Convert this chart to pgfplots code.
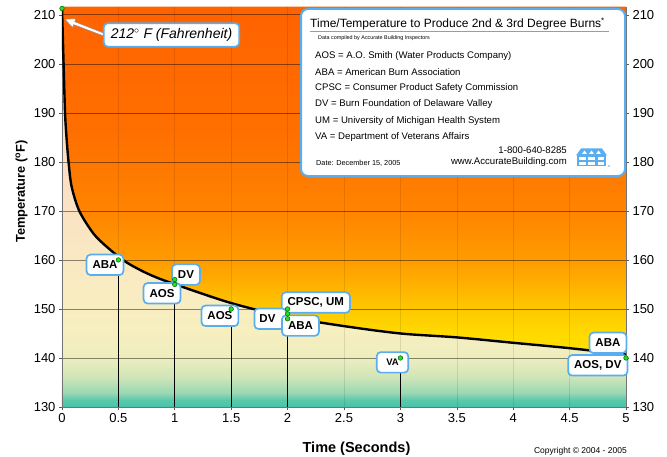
\documentclass[border=0pt]{standalone}
\usepackage{fontspec}
\setmainfont{Liberation Sans}
\usepackage{pgfplots}
\pgfplotsset{compat=1.18}

\definecolor{lblue}{HTML}{5AAEEE}
\definecolor{dotgreen}{HTML}{22E022}
% background colours
\definecolor{bgA}{HTML}{45C2A8}
\definecolor{bgB}{HTML}{5CC8AC}
\definecolor{bgC}{HTML}{9AD8B4}
\definecolor{bgD}{HTML}{CFE5B8}
\definecolor{bgE}{HTML}{EEEDBE}
\definecolor{bgF}{HTML}{F7EFC0}
\definecolor{bgG}{HTML}{F9EBC2}
\definecolor{bgH}{HTML}{FBE0C4}
\definecolor{bgI}{HTML}{FAD8BE}
% orange colours
\definecolor{orA}{HTML}{FFE000}
\definecolor{orB}{HTML}{FFDA00}
\definecolor{orC}{HTML}{FFC800}
\definecolor{orD}{HTML}{FFB000}
\definecolor{orE}{HTML}{FF9B00}
\definecolor{orF}{HTML}{FF8400}
\definecolor{orG}{HTML}{FF7000}
\definecolor{orH}{HTML}{FF6200}

\pgfdeclareverticalshading{bgshade}{100bp}{color(0bp)=(bgA); color(25bp)=(bgA); color(25.9bp)=(bgB); color(26.8bp)=(bgC); color(28.7bp)=(bgD); color(31.1bp)=(bgE); color(34.8bp)=(bgF); color(40.3bp)=(bgG); color(52.6bp)=(bgH); color(75bp)=(bgI); color(100bp)=(bgI)}
\pgfdeclareverticalshading{orshade}{100bp}{color(0bp)=(orA); color(25bp)=(orA); color(28.1bp)=(orB); color(31.6bp)=(orC); color(35.1bp)=(orD); color(38.7bp)=(orE); color(45.7bp)=(orF); color(56.3bp)=(orG); color(75bp)=(orH); color(100bp)=(orH)}

\pgfplotsset{
  commonaxis/.style={
    at={(0,0)}, anchor=south west,
    width=564pt, height=400pt, scale only axis,
    xmin=0, xmax=5, ymin=130, ymax=211.6,
    xtick={0,0.5,1,1.5,2,2.5,3,3.5,4,4.5,5},
    ytick={130,140,150,160,170,180,190,200,210},
    tick align=outside, major tick length=3pt,
    tick style={black!65, line width=0.6pt},
    axis line style={black!55, line width=0.8pt, -},
    ticklabel style={font=\fontsize{13}{15}\selectfont},
    /pgf/number format/assume math mode=true,
  },
}
\tikzset{
  lbl/.style={draw=lblue, line width=1.7pt, fill=white, rounded corners=4pt,
    font=\fontsize{11.5}{13}\selectfont\bfseries, inner xsep=6pt, inner ysep=0pt,
    minimum height=20.5pt},
}

\begin{document}
\begin{tikzpicture}
\begin{axis}[commonaxis,
  set layers,
  clip mode=individual,
  axis x line*=bottom, axis y line*=left,
  xmajorgrids, ymajorgrids,
  major x grid style={black, opacity=0.10, line width=0.6pt},
  major y grid style={black, opacity=0.45, line width=0.7pt},
]
% background
\addplot[on layer=axis background, draw=none, shading=bgshade]
  coordinates {(0,130) (5,130) (5,211.6) (0,211.6)};
% region above the curve
\addplot[on layer=axis background, draw=none, shading=orshade]
  coordinates {(0,211.3) (0.004,208) (0.008,205) (0.014,200) (0.02,195) (0.027,190) (0.04,185) (0.058,180)
   (0.085,175) (0.115,172) (0.153,170) (0.21,167.5) (0.278,165.4) (0.33,164) (0.396,162.7) (0.48,161.1) (0.559,159.7)
   (0.65,158.4) (0.75,157.3) (0.85,156.3) (0.957,155.4) (1.0,155.1) (1.25,153) (1.5,151.2) (1.75,149.7) (2.0,148.4)
   (2.25,147.4) (2.5,146.5) (2.82,145.7) (3.0,145.0) (3.5,144.2) (4.0,143.1) (4.5,142.0) (4.66,141.4) (5,140.7)
   (5,211.6) (0,211.6)};
% curve
\addplot[black, line width=2.4pt, smooth, tension=0.5]
  coordinates {(0,211.3) (0.008,205) (0.014,200) (0.027,190) (0.04,185) (0.058,180)
   (0.085,175) (0.153,170) (0.278,165.4) (0.396,162.7) (0.559,159.7)
   (0.75,157.3) (0.957,155.4) (1.5,151.2) (2.0,148.4)
   (2.5,146.5) (3.0,145.0) (3.5,144.2) (4.0,143.1) (4.5,142.0) (5,140.7)};
% drop lines
\addplot[ycomb, black, line width=0.6pt, mark=none]
  coordinates {(0.5,160) (1,156) (1.5,150) (2,150) (3,140) (5,140)};

\begin{pgfonlayer}{axis foreground}
  % arrow for 212 F
  \fill[white, draw=black!45, line width=0.5pt]
    (axis cs:0.400,206.0) -- (axis cs:0.113,208.6) -- (axis cs:0.123,209.2)
    -- (axis cs:0.026,209.1) -- (axis cs:0.095,207.4) -- (axis cs:0.104,208.0)
    -- (axis cs:0.391,205.5) -- cycle;
  \node[lbl, font=\fontsize{14}{16}\selectfont\itshape, minimum height=23.5pt, inner xsep=7pt]
    at (axis cs:0.971,205.9) {212$^{\circ}$ F (Fahrenheit)};
  \node[lbl] at (axis cs:0.381,159.0) {ABA};
  \node[lbl] at (axis cs:1.099,157.0) {DV};
  \node[lbl] at (axis cs:0.887,153.2) {AOS};
  \node[lbl] at (axis cs:1.40,148.6) {AOS};
  \node[lbl] at (axis cs:2.25,151.3) {CPSC, UM};
  \node[lbl, text width=22pt, align=left, inner xsep=5pt] at (axis cs:1.848,148.0) {DV};
  \node[lbl] at (axis cs:2.114,146.6) {ABA};
  \node[lbl, font=\fontsize{9.5}{11}\selectfont\bfseries, inner xsep=9.5pt] at (axis cs:2.93,139.1) {VA};
  \node[lbl] at (axis cs:4.84,143.1) {ABA};
  \node[lbl] at (axis cs:4.75,138.5) {AOS, DV};
\end{pgfonlayer}

% data points
\addplot[on layer=axis foreground, only marks, mark=*, mark size=2.3pt,
  mark options={fill=dotgreen, draw=green!40!black, line width=0.5pt}]
  coordinates {(0,211.3) (0.5,160) (1,156) (1,155) (1.5,150) (2,150) (2,149) (2,148) (3,140) (5,140)};
\end{axis}

% right-hand tick labels
\begin{axis}[commonaxis,
  axis y line*=right, hide x axis,
]
\addplot[draw=none] coordinates {(0,130) (5,211.6)};
\end{axis}

\begin{scope}[x=1pt, y=-1pt, shift={(-62pt,407pt)}]
  % axis labels
  \node[font=\fontsize{14.5}{17}\selectfont\bfseries, inner sep=0] at (356.5,449) {Time (Seconds)};
  \node[font=\fontsize{12.8}{15}\selectfont\bfseries, inner sep=0, rotate=90] at (21.5,191.5) {Temperature (\textsuperscript{o}F)};
  \node[anchor=east, font=\fontsize{8.5}{10}\selectfont, inner sep=0] at (627,451.5) {Copyright \textcopyright{} 2004 - 2005};

  % info box
  \draw[lblue, line width=2pt, fill=white, rounded corners=7pt] (301,9) rectangle (625,176);
  \node[anchor=base west, font=\fontsize{12}{14}\selectfont, inner sep=0] at (310,27.5)
    {Time/Temperature to Produce 2nd \& 3rd Degree Burns\textsuperscript{*}};
  \draw[lblue, line width=0.8pt] (310,31.7) -- (609,31.7);
  \node[anchor=west, font=\fontsize{5.4}{6}\selectfont, inner sep=0] at (318,38.5)
    {Data compiled by Accurate Building Inspectors};
  \begin{scope}[every node/.style={anchor=west, font=\fontsize{9.6}{11}\selectfont, inner sep=0}]
    \node at (315,55.7) {AOS = A.O. Smith (Water Products Company)};
    \node at (315,71.7) {ABA = American Burn Association};
    \node at (315,88.3) {CPSC = Consumer Product Safety Commission};
    \node at (315,104.3) {DV = Burn Foundation of Delaware Valley};
    \node at (315,120.7) {UM = University of Michigan Health System};
    \node at (315,136.7) {VA = Department of Veterans Affairs};
  \end{scope}
  \node[anchor=east, font=\fontsize{9.6}{11}\selectfont, inner sep=0] at (567,150) {1-800-640-8285};
  \node[anchor=east, font=\fontsize{9.6}{11}\selectfont, inner sep=0] at (567,162.3) {www.AccurateBuilding.com};
  \node[anchor=west, font=\fontsize{7.3}{9}\selectfont, inner sep=0] at (316,163.7) {Date: December 15, 2005};

  % logo
  \fill[lblue] (576,155.5) -- (581,148.5) -- (602,148.5) -- (607,155.5) -- cycle;
  \fill[lblue] (577,155) rectangle (606,166.5);
  \fill[white] (582,154) -- (584.5,150.5) -- (587,154) -- cycle;
  \fill[white] (589,154) -- (591.5,150.5) -- (594,154) -- cycle;
  \fill[white] (596,154) -- (598.5,150.5) -- (601,154) -- cycle;
  \fill[white] (579,156.8) rectangle (585.5,160.5);
  \fill[white] (588.3,156.8) rectangle (594.8,160.5);
  \fill[white] (597.6,156.8) rectangle (604,160.5);
  \fill[white] (579,161.8) rectangle (585.5,165);
  \fill[white] (588.3,161.8) rectangle (594.8,165);
  \fill[white] (597.6,161.8) rectangle (604,165);
  \fill[lblue] (609,166) circle (0.9);
\end{scope}
\pgfresetboundingbox
\useasboundingbox (-62pt,-49pt) rectangle (605pt,407pt);
\end{tikzpicture}
\end{document}
